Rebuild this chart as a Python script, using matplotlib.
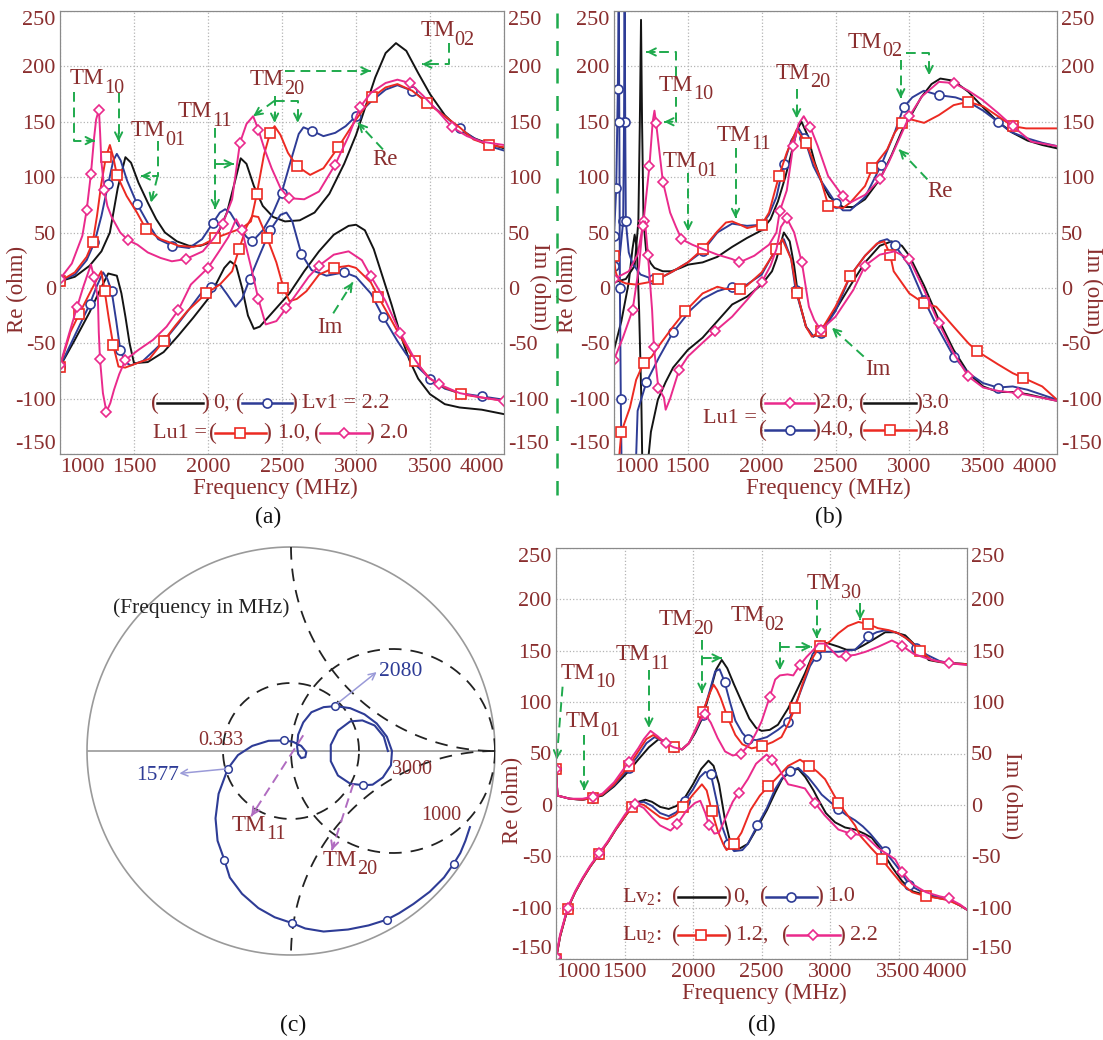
import numpy as np
import matplotlib
matplotlib.use('Agg')
import matplotlib.pyplot as plt
from matplotlib.lines import Line2D

plt.rcParams['font.family'] = ['Liberation Serif', 'DejaVu Serif']
plt.rcParams['mathtext.fontset'] = 'custom'
plt.rcParams['mathtext.rm'] = 'Liberation Serif'
plt.rcParams['axes.unicode_minus'] = False

BLACK = '#141414'
BLUE = '#2e3c96'
RED = '#ec2a22'
PINK = '#ea2a8c'
TXT = '#8a2e2e'
GREEN = '#1faa4d'
EDGE = '#8a8a8a'

freq_ticks = [1000, 1500, 2000, 2500, 3000, 3500, 4000]
ohm_ticks = [-150, -100, -50, 0, 50, 100, 150, 200, 250]

# ---------------- panel (a): Lv1 = 0 / 2.2 , Lu1 = 1.0 / 2.0 ----------------
a_re_black = [(1000,6),(1100,10),(1200,20),(1280,33),(1337,50),(1390,90),(1442,118),(1480,113),(1530,95),(1593,77),(1650,62),(1709,50),(1790,42),(1872,38),(1950,38),(2012,41),(2070,50),(2128,68),(2180,95),(2221,117),(2260,112),(2310,92),(2370,74),(2440,64),(2520,60),(2620,61),(2720,68),(2820,85),(2920,112),(3000,138),(3060,162),(3130,190),(3200,212),(3270,221),(3340,214),(3420,194),(3500,175),(3600,156),(3700,143),(3800,135),(3900,130),(4000,126)]
a_re_blue = [(1000,6),(1100,12),(1180,25),(1233,41),(1280,65),(1326,94),(1360,115),(1384,121),(1410,115),(1453,97),(1520,76),(1600,57),(1663,44),(1760,38),(1872,36),(1960,44),(2035,59),(2080,68),(2116,71),(2150,68),(2200,57),(2260,46),(2300,42),(2370,52),(2440,68),(2498,86),(2560,115),(2613,139),(2645,145),(2700,142),(2780,137),(2860,140),(2930,146),(3000,155),(3100,168),(3200,179),(3280,183),(3380,178),(3500,166),(3600,155),(3700,144),(3800,135),(3900,128),(4000,124)]
a_re_red = [(1000,6),(1100,14),(1180,28),(1221,41),(1250,65),(1279,94),(1310,118),(1337,129),(1360,118),(1384,102),(1450,83),(1520,68),(1581,53),(1680,44),(1802,38),(1900,37),(1965,39),(2050,45),(2150,50),(2230,54),(2290,60),(2330,85),(2378,120),(2420,140),(2450,146),(2490,138),(2540,122),(2600,110),(2690,102),(2780,108),(2880,127),(3000,152),(3110,172),(3200,181),(3280,184),(3380,178),(3482,167),(3600,155),(3700,145),(3794,134),(3900,129),(4000,127)]
a_re_pink = [(1000,8),(1080,22),(1151,47),(1180,70),(1209,103),(1230,135),(1244,152),(1263,161),(1271,140),(1279,115),(1300,88),(1320,74),(1349,64),(1407,50),(1460,43),(1523,39),(1593,32),(1680,27),(1756,24),(1850,26),(1965,33),(2040,45),(2100,58),(2163,80),(2216,131),(2260,148),(2305,155),(2340,143),(2380,126),(2430,108),(2490,90),(2546,81),(2650,80),(2750,87),(2858,111),(2950,137),(3026,163),(3100,176),(3200,185),(3280,188),(3362,185),(3450,174),(3550,160),(3650,145),(3750,137),(3850,132),(4000,129)]
a_im_black = [(1000,-71),(1100,-47),(1200,-22),(1270,-2),(1326,13),(1384,11),(1415,-5),(1442,-26),(1470,-50),(1500,-68),(1593,-67),(1700,-58),(1800,-43),(1900,-27),(2000,-10),(2060,5),(2110,18),(2150,24),(2190,20),(2230,0),(2270,-25),(2310,-37),(2350,-35),(2450,-20),(2550,-5),(2650,15),(2750,33),(2850,48),(2950,56),(3000,57),(3060,52),(3120,35),(3180,10),(3240,-15),(3300,-42),(3360,-65),(3420,-82),(3500,-96),(3600,-105),(3700,-108),(3850,-110),(4000,-114)]
a_im_blue = [(1000,-71),(1100,-43),(1200,-15),(1250,2),(1291,14),(1320,8),(1349,-3),(1380,-30),(1407,-56),(1440,-67),(1477,-70),(1560,-66),(1640,-56),(1709,-47),(1800,-32),(1880,-18),(1953,-5),(2020,1),(2081,3),(2130,-6),(2186,-17),(2230,-10),(2282,8),(2350,30),(2420,52),(2490,66),(2530,68),(2570,60),(2630,31),(2700,16),(2800,11),(2920,14),(3000,10),(3100,-5),(3182,-26),(3280,-48),(3340,-60),(3398,-69),(3500,-82),(3600,-91),(3700,-95),(3850,-98),(4000,-101)]
a_im_red = [(1000,-71),(1070,-40),(1128,-24),(1200,-5),(1250,8),(1279,15),(1302,-3),(1330,-28),(1360,-52),(1395,-71),(1440,-72),(1520,-68),(1605,-64),(1700,-48),(1780,-34),(1860,-21),(1988,-5),(2080,3),(2163,15),(2210,35),(2260,55),(2300,65),(2340,64),(2400,45),(2462,23),(2510,0),(2550,-12),(2600,-10),(2665,-3),(2750,12),(2850,18),(2950,20),(3000,18),(3100,5),(3150,-8),(3218,-24),(3300,-44),(3398,-66),(3500,-82),(3600,-90),(3710,-96),(3850,-99),(4000,-102)]
a_im_pink = [(1000,-70),(1060,-42),(1116,-17),(1160,2),(1209,21),(1230,10),(1256,-9),(1262,-40),(1270,-64),(1290,-95),(1314,-112),(1340,-104),(1365,-92),(1400,-78),(1442,-65),(1530,-56),(1628,-47),(1720,-35),(1800,-20),(1884,3),(2000,18),(2070,32),(2138,46),(2190,62),(2230,52),(2294,17),(2340,-10),(2390,-33),(2462,-30),(2530,-18),(2600,-5),(2680,10),(2750,20),(2850,30),(2950,33),(3040,25),(3098,11),(3200,-12),(3300,-41),(3400,-65),(3480,-80),(3560,-87),(3700,-95),(3850,-99),(4000,-102)]

# ---------------- panel (b): Lu1 = 2.0 / 3.0 / 4.0 / 4.8 ----------------
b_re_pink = [(1000,8),(1100,15),(1160,30),(1200,60),(1240,110),(1262,150),(1274,160),(1285,149),(1310,120),(1331,96),(1380,68),(1420,55),(1457,44),(1530,39),(1603,35),(1700,30),(1800,26),(1849,23),(1950,29),(2050,39),(2100,50),(2122,69),(2170,88),(2213,128),(2250,148),(2285,155),(2330,145),(2380,128),(2450,101),(2548,83),(2600,77),(2700,84),(2800,98),(2859,113),(2950,140),(3000,155),(3086,173),(3200,186),(3300,185),(3400,178),(3492,170),(3600,158),(3700,146),(3827,132),(4000,128)]
b_re_black = [(1000,5),(1080,8),(1140,20),(1165,60),(1175,150),(1183,242),(1190,150),(1200,60),(1220,30),(1250,22),(1274,18),(1330,15),(1388,15),(1450,18),(1502,21),(1600,23),(1700,28),(1800,37),(1900,45),(2000,52),(2060,62),(2110,78),(2160,100),(2200,121),(2240,143),(2270,150),(2310,138),(2360,113),(2410,94),(2460,82),(2550,73),(2620,73),(2700,80),(2800,98),(2880,120),(2950,142),(3000,153),(3080,172),(3150,184),(3210,189),(3300,187),(3400,177),(3500,163),(3600,150),(3700,140),(3800,133),(3900,129),(4000,126)]
b_re_blue = [(1000,20),(1040,30),(1062,60),(1068,150),(1072,262),(1076,150),(1080,60),(1100,32),(1125,22),(1180,12),(1262,8),(1330,10),(1400,15),(1500,23),(1600,33),(1700,50),(1800,58),(1850,57),(1900,56),(2000,57),(2050,66),(2100,82),(2150,112),(2200,133),(2250,144),(2290,135),(2350,110),(2400,97),(2500,77),(2550,70),(2600,70),(2700,82),(2810,111),(2900,140),(2961,163),(3020,172),(3098,178),(3200,174),(3313,172),(3400,168),(3500,160),(3600,150),(3684,141),(3800,135),(3900,131),(4000,128)]
b_re_red = [(1000,29),(1010,15),(1030,7),(1080,4),(1150,3),(1232,5),(1300,8),(1400,15),(1500,23),(1600,35),(1700,51),(1758,59),(1800,60),(1854,57),(1902,54),(2000,57),(2050,68),(2117,101),(2170,122),(2237,143),(2300,131),(2400,98),(2452,74),(2550,72),(2600,77),(2700,92),(2750,108),(2850,125),(2900,140),(2950,149),(3014,152),(3100,149),(3200,156),(3300,165),(3397,168),(3500,164),(3600,155),(3700,146),(3791,144),(3900,144),(4000,144)]
b_im_pink = [(1000,-65),(1060,-45),(1126,-20),(1170,20),(1194,56),(1210,60),(1230,30),(1258,-20),(1270,-53),(1300,-90),(1338,-99),(1350,-110),(1380,-100),(1441,-74),(1500,-62),(1580,-52),(1686,-39),(1800,-26),(1900,-11),(2000,5),(2060,20),(2100,35),(2130,55),(2170,63),(2220,50),(2272,23),(2320,-17),(2356,-29),(2400,-38),(2500,-26),(2620,-2),(2700,20),(2800,30),(2900,33),(3000,26),(3100,-2),(3200,-32),(3300,-59),(3400,-80),(3500,-90),(3600,-93),(3733,-95),(3850,-98),(4000,-102)]
b_im_black = [(1000,-56),(1050,-30),(1100,5),(1125,35),(1140,48),(1155,35),(1170,-20),(1185,-100),(1194,-180),(1215,-250),(1228,-160),(1250,-130),(1297,-101),(1350,-85),(1400,-72),(1500,-56),(1600,-45),(1700,-30),(1800,-15),(1900,-8),(2000,3),(2070,15),(2100,26),(2150,50),(2190,42),(2220,20),(2250,-10),(2300,-35),(2350,-44),(2400,-39),(2500,-20),(2600,2),(2700,23),(2800,38),(2880,42),(2950,38),(3000,29),(3100,2),(3200,-29),(3300,-56),(3400,-77),(3500,-89),(3600,-94),(3700,-94),(3800,-96),(3900,-99),(4000,-102)]
b_im_blue = [(1000,47),(1015,90),(1026,180),(1032,262),(1036,150),(1040,0),(1046,-100),(1052,-170),(1070,-250),(1130,-250),(1148,-160),(1160,-111),(1220,-85),(1304,-63),(1400,-40),(1519,-20),(1600,-10),(1700,-3),(1800,1),(1850,1),(1900,3),(2000,12),(2100,36),(2150,44),(2200,26),(2230,-2),(2300,-35),(2350,-44),(2400,-41),(2500,-21),(2600,11),(2700,29),(2800,42),(2850,44),(2900,39),(3000,20),(3100,-11),(3200,-38),(3300,-62),(3400,-77),(3500,-86),(3600,-90),(3700,-89),(3800,-92),(4000,-101)]
b_im_red = [(1020,-175),(1050,-130),(1108,-108),(1150,-83),(1200,-68),(1256,-62),(1300,-53),(1400,-35),(1483,-21),(1600,-5),(1700,1),(1758,-1),(1854,-1),(1900,2),(2000,14),(2100,35),(2140,44),(2200,26),(2240,-5),(2300,-35),(2340,-44),(2400,-39),(2500,-17),(2600,11),(2700,29),(2780,40),(2830,42),(2870,30),(2894,15),(3000,-5),(3100,-14),(3182,-17),(3300,-35),(3400,-50),(3457,-57),(3600,-69),(3700,-77),(3768,-81),(3900,-89),(4000,-101)]

# ---------------- panel (d): Lv2 = 0 / 1.0 , Lu2 = 1.2 / 2.2 ----------------
d_re_black = [(1000,35),(1006,20),(1012,9),(1100,6),(1194,5),(1270,7),(1339,9),(1424,18),(1532,33),(1600,44),(1678,56),(1750,64),(1800,62),(1860,57),(1920,54),(1970,60),(2016,70),(2070,85),(2120,108),(2170,132),(2210,141),(2250,133),(2300,117),(2350,102),(2411,84),(2460,75),(2501,72),(2560,73),(2620,78),(2695,94),(2760,112),(2817,128),(2870,145),(2927,159),(2990,157),(3061,154),(3120,151),(3183,151),(3240,155),(3305,160),(3403,168),(3470,168),(3549,165),(3640,153),(3720,141),(3800,139),(3866,138),(4000,137)]
d_re_blue = [(1000,35),(1006,20),(1012,9),(1100,6),(1194,5),(1270,7),(1339,10),(1424,19),(1532,36),(1600,48),(1660,60),(1720,66),(1790,61),(1860,56),(1920,54),(1970,60),(2016,71),(2070,87),(2120,110),(2162,130),(2194,132),(2230,120),(2270,100),(2309,82),(2360,70),(2402,64),(2463,63),(2540,66),(2620,73),(2695,81),(2770,105),(2854,135),(2900,145),(2939,149),(3000,149),(3061,149),(3183,151),(3230,157),(3281,164),(3340,168),(3403,170),(3480,168),(3549,163),(3630,153),(3708,146),(3800,140),(3866,138),(4000,137)]
d_re_red = [(1000,35),(1006,20),(1012,9),(1100,6),(1194,5),(1270,7),(1339,10),(1424,20),(1532,38),(1600,52),(1660,64),(1710,68),(1780,62),(1860,56),(1920,54),(1970,60),(2016,72),(2070,90),(2120,108),(2150,117),(2175,112),(2202,104),(2250,86),(2309,68),(2360,59),(2427,55),(2500,57),(2580,61),(2646,66),(2700,80),(2744,94),(2800,118),(2860,140),(2927,155),(2951,155),(3000,159),(3061,167),(3130,174),(3208,178),(3280,176),(3349,172),(3430,170),(3500,167),(3580,160),(3660,150),(3741,141),(3850,138),(4000,137)]
d_re_pink = [(1000,35),(1006,20),(1012,9),(1100,6),(1194,6),(1270,8),(1339,11),(1424,22),(1532,42),(1600,55),(1641,64),(1690,72),(1740,67),(1800,60),(1860,56),(1920,54),(1970,60),(2016,73),(2050,82),(2089,88),(2130,80),(2180,65),(2234,52),(2290,48),(2350,50),(2420,60),(2460,70),(2500,81),(2560,105),(2600,122),(2634,126),(2690,127),(2732,126),(2780,136),(2829,144),(2880,151),(2915,157),(2960,157),(3000,152),(3061,144),(3120,145),(3183,146),(3260,149),(3354,154),(3452,160),(3525,155),(3610,147),(3696,143),(3780,140),(3866,138),(4000,136)]
d_im_black = [(1000,-150),(1030,-128),(1085,-101),(1140,-85),(1194,-72),(1250,-60),(1315,-48),(1380,-36),(1436,-24),(1500,-12),(1557,-1),(1600,3),(1653,5),(1700,3),(1760,-2),(1823,-4),(1880,-1),(1940,7),(2000,20),(2060,35),(2113,43),(2150,38),(2190,20),(2234,-15),(2270,-35),(2300,-43),(2347,-42),(2400,-38),(2470,-22),(2540,-5),(2600,12),(2650,25),(2710,33),(2768,35),(2820,27),(2880,14),(2915,5),(2970,-8),(3037,-17),(3110,-22),(3183,-24),(3250,-28),(3305,-32),(3380,-45),(3450,-60),(3525,-74),(3600,-84),(3700,-88),(3800,-91),(3866,-92),(3950,-98),(4000,-102)]
d_im_blue = [(1000,-150),(1030,-128),(1085,-101),(1140,-85),(1194,-72),(1250,-60),(1315,-48),(1380,-36),(1436,-24),(1500,-12),(1557,-1),(1600,2),(1640,3),(1700,-1),(1760,-8),(1823,-11),(1880,-7),(1940,4),(2000,15),(2050,27),(2089,32),(2130,30),(2174,3),(2210,-20),(2258,-38),(2300,-45),(2360,-44),(2400,-38),(2470,-20),(2540,-3),(2598,15),(2650,26),(2710,33),(2768,36),(2840,27),(2900,17),(2939,10),(3000,3),(3061,-4),(3120,-10),(3183,-15),(3240,-21),(3293,-28),(3400,-45),(3500,-62),(3580,-78),(3700,-87),(3800,-90),(3866,-92),(3950,-98),(4000,-102)]
d_im_red = [(1000,-150),(1030,-128),(1085,-101),(1140,-85),(1194,-72),(1250,-60),(1315,-48),(1380,-36),(1436,-24),(1500,-12),(1557,-2),(1600,1),(1640,0),(1700,-6),(1760,-12),(1811,-14),(1870,-10),(1930,-2),(2000,10),(2065,20),(2100,14),(2137,-6),(2180,-25),(2220,-38),(2245,-44),(2300,-38),(2354,-27),(2420,-5),(2488,9),(2550,18),(2610,26),(2695,38),(2781,44),(2850,38),(2910,32),(2964,25),(3061,2),(3183,-20),(3220,-30),(3300,-42),(3378,-53),(3450,-65),(3525,-77),(3600,-85),(3700,-89),(3800,-91),(3866,-93),(3950,-98),(4000,-102)]
d_im_pink = [(1000,-148),(1030,-126),(1085,-100),(1140,-84),(1194,-71),(1250,-59),(1315,-47),(1380,-35),(1436,-23),(1500,-10),(1557,0),(1580,1),(1640,-3),(1700,-12),(1760,-20),(1836,-25),(1883,-19),(1950,-6),(2016,2),(2053,4),(2090,-8),(2117,-20),(2156,-28),(2190,-27),(2240,-12),(2290,3),(2335,12),(2400,25),(2460,40),(2537,49),(2580,44),(2622,36),(2695,20),(2760,18),(2817,16),(2890,2),(2960,-10),(3061,-24),(3150,-28),(3256,-30),(3350,-42),(3476,-53),(3525,-65),(3600,-77),(3700,-85),(3800,-89),(3866,-91),(3950,-97),(4000,-102)]

# ---------------- panel (c): reflection coefficient locus ----------------
c_locus = [(0.877,-0.373),(0.855,-0.44),(0.83,-0.50),(0.798,-0.552),(0.75,-0.62),(0.68,-0.69),(0.60,-0.75),(0.53,-0.795),(0.469,-0.827),(0.38,-0.855),(0.28,-0.875),(0.16,-0.885),(0.07,-0.87),(0.0035,-0.843),(-0.08,-0.815),(-0.16,-0.77),(-0.24,-0.70),(-0.30,-0.62),(-0.327,-0.533),(-0.36,-0.44),(-0.37,-0.33),(-0.355,-0.21),(-0.31,-0.087),(-0.26,-0.02),(-0.19,0.025),(-0.11,0.05),(-0.033,0.052),(0.01,0.045),(0.05,0.025),(0.075,-0.005),(0.07,-0.03),(0.05,-0.035),(0.035,-0.015),(0.03,0.02),(0.035,0.08),(0.06,0.14),(0.10,0.19),(0.16,0.215),(0.218,0.22),(0.29,0.21),(0.36,0.18),(0.42,0.135),(0.47,0.07),(0.495,0.0),(0.49,-0.07),(0.45,-0.13),(0.40,-0.165),(0.355,-0.168),(0.29,-0.16),(0.23,-0.12),(0.195,-0.05),(0.195,0.03),(0.23,0.10),(0.29,0.145),(0.35,0.15),(0.41,0.125),(0.455,0.07),(0.475,0.0)]
c_marks = [3, 8, 13, 18, 22, 26, 38, 47]
vswr_gamma = 1 / 3


fig = plt.figure(figsize=(11.03, 10.40), dpi=100)


def freq_axes(rect, relab, imlab, xlab):
    ax = fig.add_axes(rect)
    ax.set_xlim(1000, 4000)
    ax.set_ylim(-150, 250)
    ax.set_xticks(freq_ticks)
    ax.set_yticks(ohm_ticks)
    ax.grid(True, ls=':', color='#b4b4b4', lw=0.9)
    ax.tick_params(length=0, labelsize=16, labelcolor=TXT, pad=3)
    for s in ax.spines.values():
        s.set_color(EDGE)
    xl = ax.get_xticklabels()
    xl[0].set_ha('left')
    xl[-1].set_ha('right')
    yl = ax.get_yticklabels()
    yl[0].set_va('bottom')
    yl[-1].set_va('top')
    ax2 = ax.twinx()
    ax2.set_ylim(-150, 250)
    ax2.set_yticks(ohm_ticks)
    ax2.tick_params(length=0, labelsize=16, labelcolor=TXT, pad=3)
    for s in ax2.spines.values():
        s.set_color(EDGE)
    yr = ax2.get_yticklabels()
    yr[0].set_va('bottom')
    yr[-1].set_va('top')
    ax.set_ylabel('Re (ohm)', color=TXT, fontsize=16.5, va='center', ha='center')
    ax.yaxis.set_label_coords(*relab)
    ax2.set_ylabel('Im (ohm)', color=TXT, fontsize=16.5, rotation=270, va='center', ha='center')
    ax2.yaxis.set_label_coords(*imlab)
    ax.set_xlabel('Frequency (MHz)', color=TXT, fontsize=16.5, va='center')
    ax.xaxis.set_label_coords(*xlab)
    return ax


def curve(ax, pts, color, marker):
    arr = np.array(pts, dtype=float)
    if marker:
        ax.plot(arr[:, 0], arr[:, 1], color=color, lw=1.4, marker=marker, ms=6.5 if marker != 'D' else 5.5,
                mfc='white', mec=color, mew=1.2, markevery=0.1)
    else:
        ax.plot(arr[:, 0], arr[:, 1], color=color, lw=1.4)


def garrow(ax, pts, color=GREEN):
    xs = [p[0] for p in pts]
    ys = [p[1] for p in pts]
    ax.plot(xs, ys, color=color, lw=1.4, ls=(0, (5, 3)), zorder=6, clip_on=False)
    a = ax.transData.transform(pts[-2])
    b = ax.transData.transform(pts[-1])
    d = (b - a) / np.hypot(*(b - a))
    ax.annotate('', xy=pts[-1], xytext=(-d[0] * 6, -d[1] * 6), textcoords='offset points',
                arrowprops=dict(arrowstyle='->', color=color, lw=1.4, shrinkA=0, shrinkB=0,
                                mutation_scale=13), zorder=6)


def tm(ax, x, y, sub, size=16.5):
    t = ax.text(x, y, 'TM', color=TXT, fontsize=size, ha='left', va='center', zorder=7)
    ax.annotate(sub, xy=(1.0, 0.05), xycoords=t, color=TXT, fontsize=size * 0.88,
                ha='left', va='center', zorder=7)


def ltext(ax, x, y, s, size=16):
    ax.text(x, y, s, transform=ax.transAxes, color=TXT, fontsize=size, ha='left', va='center', zorder=8)


def lsample(ax, x0, x1, y, color, marker):
    ax.text(x0 - 0.004, y, '(', transform=ax.transAxes, color=TXT, fontsize=17, ha='center', va='center', zorder=8)
    ax.text(x1 + 0.004, y, ')', transform=ax.transAxes, color=TXT, fontsize=17, ha='center', va='center', zorder=8)
    ax.plot([x0, x1], [y, y], transform=ax.transAxes, color=color, lw=1.8, zorder=8)
    if marker:
        ax.plot([(x0 + x1) / 2], [y], transform=ax.transAxes, marker=marker, ms=6.5 if marker != 'D' else 5.5,
                mfc='white', mec=color, mew=1.2, ls='none', zorder=9)


# ---------------- (a) ----------------
ax = freq_axes([60 / 1103, 1 - 454 / 1040, 444 / 1103, 443 / 1040], (-0.095, 0.372), (1.079, 0.377), (0.484, -0.077))
for pts, col, mk in [(a_re_black, BLACK, None), (a_im_black, BLACK, None),
                     (a_re_blue, BLUE, 'o'), (a_im_blue, BLUE, 'o'),
                     (a_re_red, RED, 's'), (a_im_red, RED, 's'),
                     (a_re_pink, PINK, 'D'), (a_im_pink, PINK, 'D')]:
    curve(ax, pts, col, mk)
tm(ax, 1064, 189, '10')
tm(ax, 1476, 142, '01')
tm(ax, 1797, 159, '11')
tm(ax, 2282, 188, '20')
tm(ax, 3434, 232, '02')
ax.text(3194, 116, 'Re', color=TXT, fontsize=16.5, ha='center', va='center')
ax.text(2822, -36, 'Im', color=TXT, fontsize=16.5, ha='center', va='center')
garrow(ax, [(1094, 177), (1094, 133), (1236, 133)])
garrow(ax, [(1396, 176), (1396, 132)])
garrow(ax, [(1660, 133), (1660, 101), (1545, 101)])
garrow(ax, [(1660, 101), (1614, 77)])
garrow(ax, [(2049, 144), (2049, 71)])
garrow(ax, [(2049, 112), (2175, 112)])
garrow(ax, [(2450, 173), (2450, 149)])
garrow(ax, [(2450, 169), (2606, 169), (2606, 149)])
garrow(ax, [(2450, 169), (2306, 155)])
garrow(ax, [(2522, 196), (3098, 196)])
garrow(ax, [(3630, 221), (3630, 202), (3446, 202)])
garrow(ax, [(3182, 125), (3014, 149)])
garrow(ax, [(2846, -23), (2978, 5)])
lsample(ax, 0.218, 0.322, 0.115, BLACK, None)
ltext(ax, 0.345, 0.115, '0,')
lsample(ax, 0.41, 0.522, 0.115, BLUE, 'o')
ltext(ax, 0.545, 0.115, 'Lv1 = 2.2')
ltext(ax, 0.209, 0.047, 'Lu1 =')
lsample(ax, 0.348, 0.463, 0.047, RED, 's')
ltext(ax, 0.49, 0.047, '1.0,')
lsample(ax, 0.585, 0.695, 0.047, PINK, 'D')
ltext(ax, 0.72, 0.047, '2.0')

# ---------------- (b) ----------------
ax = freq_axes([614 / 1103, 1 - 454 / 1040, 443 / 1103, 443 / 1040], (-0.104, 0.372), (1.081, 0.37), (0.485, -0.077))
for pts, col, mk in [(b_re_black, BLACK, None), (b_im_black, BLACK, None),
                     (b_re_blue, BLUE, 'o'), (b_im_blue, BLUE, 'o'),
                     (b_re_red, RED, 's'), (b_im_red, RED, 's'),
                     (b_re_pink, PINK, 'D'), (b_im_pink, PINK, 'D')]:
    curve(ax, pts, col, mk)
tm(ax, 1304, 183, '10')
tm(ax, 1328, 114, '01')
tm(ax, 1698, 138, '11')
tm(ax, 2093, 194, '20')
tm(ax, 2583, 222, '02')
ax.text(3206, 87, 'Re', color=TXT, fontsize=16.5, ha='center', va='center')
ax.text(2787, -74, 'Im', color=TXT, fontsize=16.5, ha='center', va='center')
garrow(ax, [(1423, 191), (1423, 213), (1220, 213)])
garrow(ax, [(1423, 172), (1423, 150), (1340, 150)])
garrow(ax, [(1502, 104), (1502, 51)])
garrow(ax, [(1823, 126), (1823, 63)])
garrow(ax, [(2237, 180), (2237, 153)])
garrow(ax, [(2942, 206), (2942, 171)])
garrow(ax, [(2978, 212), (3134, 212), (3134, 192)])
garrow(ax, [(3122, 98), (2930, 125)])
garrow(ax, [(2691, -62), (2476, -36)])
ltext(ax, 0.2, 0.08, 'Lu1 =')
lsample(ax, 0.341, 0.452, 0.115, PINK, 'D')
ltext(ax, 0.466, 0.115, '2.0,')
lsample(ax, 0.565, 0.682, 0.115, BLACK, None)
ltext(ax, 0.694, 0.115, '3.0')
lsample(ax, 0.341, 0.452, 0.054, BLUE, 'o')
ltext(ax, 0.466, 0.054, '4.0,')
lsample(ax, 0.565, 0.682, 0.054, RED, 's')
ltext(ax, 0.694, 0.054, '4.8')

# ---------------- (d) ----------------
ax = freq_axes([556 / 1103, 1 - 959 / 1040, 411 / 1103, 411 / 1040], (-0.105, 0.385), (1.109, 0.397), (0.508, -0.083))
for pts, col, mk in [(d_re_black, BLACK, None), (d_im_black, BLACK, None),
                     (d_re_blue, BLUE, 'o'), (d_im_blue, BLUE, 'o'),
                     (d_re_red, RED, 's'), (d_im_red, RED, 's'),
                     (d_re_pink, PINK, 'D'), (d_im_pink, PINK, 'D')]:
    curve(ax, pts, col, mk)
tm(ax, 1036, 128, '10')
tm(ax, 1073, 81, '01')
tm(ax, 1436, 146, '11')
tm(ax, 1750, 180, '20')
tm(ax, 2271, 184, '02')
tm(ax, 2829, 215, '30')
garrow(ax, [(1048, 115), (1005, 44)])
garrow(ax, [(1206, 68), (1206, 14)])
garrow(ax, [(1678, 131), (1678, 75)])
garrow(ax, [(2065, 160), (2065, 109)])
garrow(ax, [(2065, 143), (2210, 143)])
garrow(ax, [(2634, 159), (2634, 131)])
garrow(ax, [(2634, 154), (2866, 154)])
garrow(ax, [(2903, 199), (2903, 162)])
garrow(ax, [(3220, 196), (3220, 180)])
ltext(ax, 0.161, 0.151, 'Lv$_2$:')
lsample(ax, 0.296, 0.412, 0.151, BLACK, None)
ltext(ax, 0.43, 0.151, '0,')
lsample(ax, 0.51, 0.635, 0.151, BLUE, 'o')
ltext(ax, 0.66, 0.151, '1.0')
ltext(ax, 0.161, 0.058, 'Lu$_2$:')
lsample(ax, 0.296, 0.412, 0.058, RED, 's')
ltext(ax, 0.436, 0.058, '1.2,')
lsample(ax, 0.563, 0.69, 0.058, PINK, 'D')
ltext(ax, 0.715, 0.058, '2.2')

# ---------------- (c) Smith chart ----------------
axc = fig.add_axes([87 / 1103, 1 - 955 / 1040, 408 / 1103, 408 / 1040])
axc.set_xlim(-1, 1)
axc.set_ylim(-1, 1)
axc.axis('off')
th = np.linspace(0, 2 * np.pi, 400)
axc.plot(np.cos(th), np.sin(th), color='#9a9a9a', lw=1.2, clip_on=False)
axc.plot([-1, 1], [0, 0], color='#9a9a9a', lw=1.2)
dash = (0, (7, 5))
axc.plot(vswr_gamma * np.cos(th), vswr_gamma * np.sin(th), color='#222222', lw=1.3, ls=dash)
axc.plot(0.5 + 0.5 * np.cos(th), 0.5 * np.sin(th), color='#222222', lw=1.3, ls=dash)
t1 = np.linspace(np.pi, 1.5 * np.pi, 120)
axc.plot(1 + np.cos(t1), 1 + np.sin(t1), color='#222222', lw=1.3, ls=dash)
t2 = np.linspace(0.5 * np.pi, np.pi, 120)
axc.plot(1 + np.cos(t2), -1 + np.sin(t2), color='#222222', lw=1.3, ls=dash)
loc = np.array(c_locus)
axc.plot(loc[:, 0], loc[:, 1], color=BLUE, lw=1.5, marker='o', ms=5.5, mfc='white', mec=BLUE,
         mew=1.1, markevery=c_marks)
axc.text(-0.44, 0.70, '(Frequency in MHz)', color='#222222', fontsize=15.5, ha='center', va='center')
axc.text(0.43, 0.39, '2080', color=BLUE, fontsize=15.5, ha='left', va='center')
axc.text(-0.55, -0.12, '1577', color=BLUE, fontsize=15.5, ha='right', va='center')
axc.text(-0.345, 0.05, '0.333', color=TXT, fontsize=14.5, ha='center', va='center')
axc.text(0.595, -0.09, '3000', color=TXT, fontsize=14.5, ha='center', va='center')
axc.text(0.735, -0.315, '1000', color=TXT, fontsize=14.5, ha='center', va='center')
tm(axc, -0.29, -0.364, '11')
tm(axc, 0.156, -0.536, '20')
axc.annotate('', xy=(0.42, 0.387), xytext=(0.23, 0.235),
             arrowprops=dict(arrowstyle='->', color='#9a9ad8', lw=1.1, shrinkA=0, shrinkB=0, mutation_scale=12))
axc.annotate('', xy=(-0.547, -0.11), xytext=(-0.32, -0.088),
             arrowprops=dict(arrowstyle='->', color='#9a9ad8', lw=1.1, shrinkA=0, shrinkB=0, mutation_scale=12))
garrow(axc, [(0.06, 0.077), (-0.195, -0.32)], color='#b06cc0')
garrow(axc, [(0.306, -0.16), (0.2, -0.487)], color='#b06cc0')

# panel letters and separator
for x, y, s in [(268, 517, '(a)'), (829, 517, '(b)'), (293, 1025, '(c)'), (762, 1025, '(d)')]:
    fig.text(x / 1103, 1 - y / 1040, s, fontsize=17, ha='center', va='center', color='#111111')
fig.add_artist(Line2D([557 / 1103, 557 / 1103], [1 - 13 / 1040, 1 - 495 / 1040], transform=fig.transFigure,
                      color=GREEN, lw=1.8, ls=(0, (6, 5))))

fig.savefig('out.png', dpi=100)
